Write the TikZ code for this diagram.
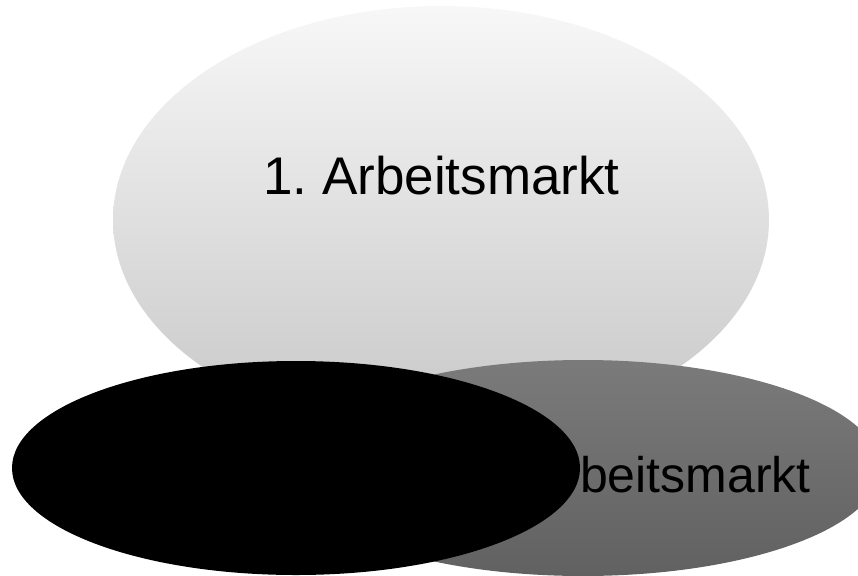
\documentclass[tikz,border=0pt]{standalone}
\usepackage{fontspec}
\setmainfont{Liberation Sans}
\usetikzlibrary{shapes.geometric}
\definecolor{topA}{gray}{0.97}
\definecolor{botA}{gray}{0.78}
\definecolor{topB}{gray}{0.48}
\definecolor{botB}{gray}{0.38}
\tikzset{
  oval/.style={ellipse, draw=none, inner sep=0pt},
  lbl/.style={text=black, inner sep=0pt}
}
\frenchspacing
\begin{document}
\begin{tikzpicture}[x=1pt,y=-1pt]
\useasboundingbox (0,0) rectangle (858,575);
\clip (0,0) rectangle (858,575);
\node[oval, minimum width=656pt, minimum height=428pt, top color=topA, bottom color=botA] (m1) at (441,220) {};
\node[lbl, font=\fontsize{53}{60}\selectfont, anchor=base] (t1) at (441.5,194) {1. Arbeitsmarkt};
\node[oval, minimum width=594pt, minimum height=216pt, top color=topB, bottom color=botB] (m2) at (583,468) {};
\node[lbl, font=\fontsize{50}{60}\selectfont, anchor=base east] (t2) at (811,492) {2. Arbeitsmarkt};
\node[oval, minimum width=568pt, minimum height=214pt, fill=black] (m3) at (296,468) {};
\end{tikzpicture}
\end{document}
